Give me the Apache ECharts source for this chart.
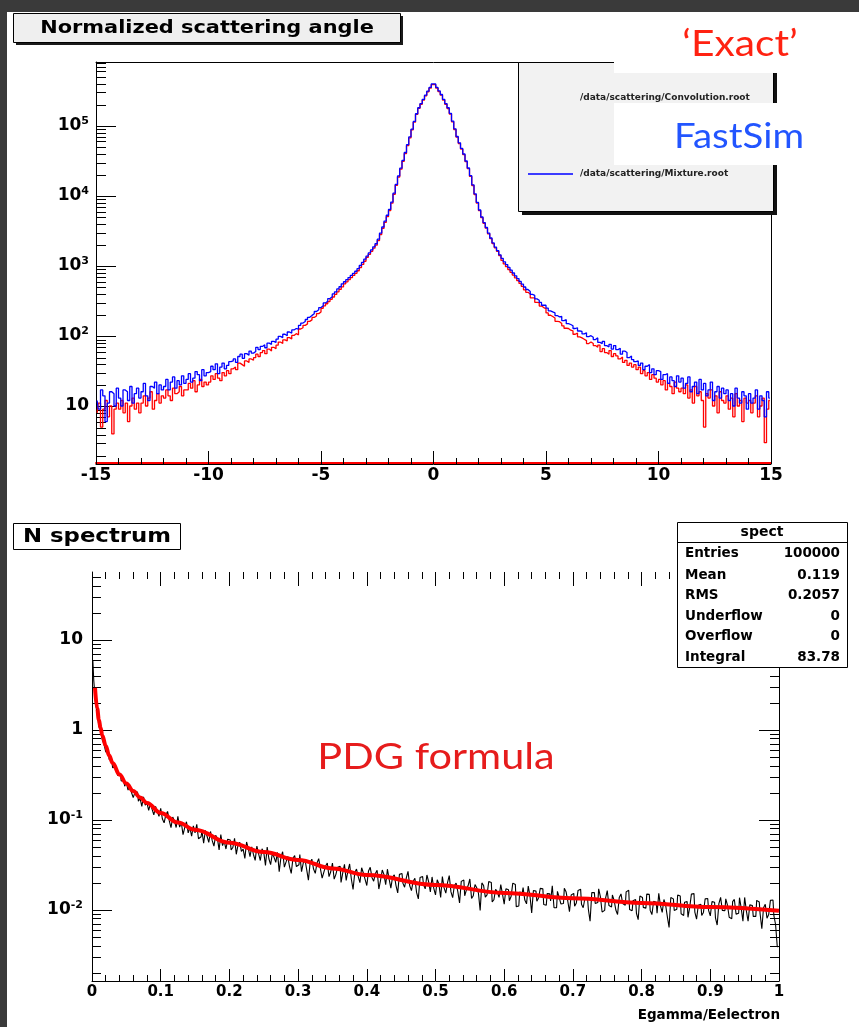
<!DOCTYPE html>
<html><head><meta charset="utf-8">
<script src="https://cdn.jsdelivr.net/npm/echarts@6/dist/echarts.min.js"></script>
<style>
html,body{margin:0;padding:0;background:#3a3a3a;width:859px;height:1027px;overflow:hidden}
#paper{position:absolute;left:7px;top:12px;width:852px;height:1015px;background:#fff}
#chart{position:absolute;left:0;top:0;width:859px;height:1027px}
</style></head><body><div id="paper"></div><div id="chart"></div>
<script>
// ---------------- DATA ----------------
// Top: normalized scattering angle, 300 bins of width 0.1 from -15 to 15 (one row = one unit)
const angleMin = -15, angleMax = 15, angleBinWidth = 0.1;
const angleTicks = [-15, -10, -5, 0, 5, 10, 15];
const countDecades = [10, 100, 1000, 10000, 100000];
const countRange = [1.535, 820000];
// 'Exact' : /data/scattering/Convolution.root (red)
const convolutionCounts = [
  8,11,5,9,12,7,10,4,9,11,
  9,12,8,11,6,10,13,9,11,8,
  11,14,10,13,16,9,12,15,11,14,
  13,17,14,12,18,15,16,19,14,17,
  17,21,18,23,16,20,24,19,22,20,
  22,27,24,29,25,23,30,27,32,29,
  34,36,33,41,39,37,44,42,47,45,
  49,55,51,58,62,56,65,61,69,66,
  74,82,78,88,85,95,91,102,108,104,
  126,131,142,149,162,170,184,193,209,220,
  249,269,289,310,334,361,393,427,463,503,
  556,595,638,684,733,785,856,949,1053,1169,
  1324,1466,1622,1795,1986,2307,2818,3443,4188,5070,
  6207,7905,10590,14190,18660,24150,31260,40360,52240,67450,
  88100,113500,146200,177900,204200,234400,269200,307000,346700,389000,
  389000,346700,309000,275400,234400,204200,177800,148000,114800,89130,
  69180,56230,46770,38900,30900,24550,19050,14130,10470,7943,
  6166,4898,4074,3467,2884,2455,2089,1820,1622,1413,
  1202,1072,977,891,813,741,676,617,563,513,
  457,421,398,350,351,303,300,268,255,246,
  214,198,190,181,162,160,151,140,129,128,
  121,118,106,110,97,94,90,86,78,82,
  78,73,69,74,60,66,58,55,62,51,
  56,52,47,50,42,45,38,41,36,39,
  33,36,29,32,27,30,24,28,25,22,
  24,20,23,17,21,19,15,22,18,16,
  18,15,20,13,17,11,19,14,16,12,
  5,15,13,17,10,14,8,16,12,11,
  14,9,13,7,15,10,12,6,13,11,
  12,8,11,14,7,10,13,3,9,12
];
// FastSim : /data/scattering/Mixture.root (blue)
const mixtureCounts = [
  12,9,17,14,6,11,16,15,10,18,
  13,10,17,16,12,19,11,15,18,13,
  16,21,14,12,19,18,22,15,20,17,
  19,24,17,22,26,18,23,20,27,21,
  24,29,22,25,31,28,23,33,27,30,
  31,37,33,40,29,36,41,34,38,43,
  44,47,42,51,55,48,56,53,61,57,
  60,69,64,71,75,68,79,76,84,81,
  90,99,95,106,101,114,110,122,128,125,
  142,153,161,172,185,197,208,224,238,255,
  270,297,314,343,363,399,428,471,505,556,
  596,638,684,733,785,841,917,1017,1128,1252,
  1387,1535,1698,1879,2080,2415,2951,3606,4385,5309,
  6427,8185,10960,14690,19320,25000,32360,41780,54080,69820,
  90160,116100,149600,182000,208900,239900,275400,314100,354800,398100,
  398100,354800,316200,281800,239900,208900,182000,151400,117500,91200,
  70790,57540,47860,39810,31620,25120,19500,14450,10720,8128,
  6310,5012,4169,3548,2951,2512,2138,1862,1660,1445,
  1288,1148,1047,955,871,794,724,661,603,550,
  501,462,433,392,380,339,324,302,275,276,
  251,229,221,214,196,188,190,166,171,150,
  146,140,128,131,118,116,107,111,98,101,
  96,89,94,81,78,84,73,70,76,65,
  73,64,67,55,61,58,49,52,46,43,
  44,38,41,33,37,39,30,34,28,32,
  31,24,28,29,21,26,23,19,27,22,
  25,18,21,26,16,19,22,15,24,17,
  21,14,17,22,12,16,19,13,18,15,
  17,12,15,10,18,13,11,16,14,9,
  15,11,13,17,9,14,12,7,16,13
];

// Bottom: N spectrum, 400 bins of width 0.0025 from 0 to 1
const spectMin = 0, spectMax = 1, spectBinWidth = 0.0025;
const spectTicks = [0, 0.1, 0.2, 0.3, 0.4, 0.5, 0.6, 0.7, 0.8, 0.9, 1];
const spectDecades = [0.01, 0.1, 1, 10];
const spectRange = [0.001626, 57];
const spectCounts = [
  5.9,3.61,2.02,1.52,1.10,0.984,0.775,0.698,0.572,0.569,
  0.470,0.460,0.381,0.385,0.365,0.312,0.325,0.272,0.275,0.237,
  0.261,0.215,0.246,0.202,0.177,0.203,0.204,0.162,0.174,0.142,
  0.181,0.146,0.155,0.128,0.152,0.131,0.114,0.142,0.125,0.110,
  0.1346,0.1025,0.0932,0.1146,0.1245,0.0978,0.0824,0.1079,0.0978,0.0825,
  0.1099,0.0834,0.0939,0.0687,0.0825,0.0957,0.0719,0.0824,0.0660,0.0861,
  0.0718,0.0895,0.0620,0.0651,0.0759,0.0553,0.0765,0.0660,0.0565,0.0746,
  0.0590,0.0513,0.0675,0.0628,0.0465,0.0690,0.0520,0.0580,0.0476,0.0612,
  0.0599,0.0465,0.0495,0.0625,0.0416,0.0527,0.0567,0.0449,0.0474,0.0374,
  0.0570,0.0481,0.0392,0.0502,0.0414,0.0356,0.0512,0.0421,0.0355,0.0478,
  0.0437,0.0313,0.0500,0.0371,0.0319,0.0426,0.0385,0.0339,0.0436,0.0267,
  0.0385,0.0444,0.0299,0.0342,0.0395,0.0304,0.0255,0.0376,0.0402,0.0304,
  0.0318,0.0414,0.0267,0.0332,0.0364,0.0281,0.0215,0.0334,0.0367,0.0285,
  0.0255,0.0333,0.0372,0.0286,0.0226,0.0264,0.0308,0.0333,0.0235,0.0266,
  0.0333,0.0220,0.0249,0.0298,0.0306,0.0202,0.0259,0.0322,0.0213,0.0272,
  0.0325,0.0221,0.0169,0.0260,0.0285,0.0235,0.0201,0.0295,0.0258,0.0219,
  0.0187,0.0272,0.0298,0.0230,0.0209,0.0254,0.0276,0.0171,0.0214,0.0278,
  0.0247,0.0191,0.0284,0.0220,0.0175,0.0232,0.0246,0.0187,0.0155,0.0249,
  0.0254,0.0199,0.0179,0.0227,0.0269,0.0186,0.0164,0.0209,0.0225,0.0156,
  0.0133,0.0229,0.0236,0.0192,0.0172,0.0245,0.0206,0.0159,0.0233,0.0174,
  0.0147,0.0217,0.0193,0.0138,0.0235,0.0176,0.0154,0.0201,0.0241,0.0159,
  0.0137,0.0187,0.0199,0.0160,0.0120,0.0208,0.0216,0.0144,0.0167,0.0187,
  0.0221,0.0134,0.0144,0.0192,0.0177,0.0154,0.0099,0.0200,0.0187,0.0139,
  0.0147,0.0207,0.0202,0.0123,0.0130,0.0170,0.0159,0.0138,0.0192,0.0150,
  0.0116,0.0172,0.0168,0.0127,0.0141,0.0199,0.0192,0.0109,0.0111,0.0158,
  0.0155,0.0177,0.0129,0.0117,0.0184,0.0144,0.0093,0.0165,0.0162,0.0125,
  0.0136,0.0174,0.0172,0.0115,0.0113,0.0152,0.0151,0.0126,0.0186,0.0106,
  0.0106,0.0161,0.0138,0.0117,0.0118,0.0174,0.0160,0.0126,0.0096,0.0147,
  0.0153,0.0110,0.0120,0.0165,0.0170,0.0116,0.0106,0.0135,0.0138,0.0102,
  0.0075,0.0156,0.0156,0.0118,0.0121,0.0172,0.0141,0.0095,0.0099,0.0135,
  0.0164,0.0112,0.0108,0.0147,0.0128,0.0100,0.0089,0.0138,0.0151,0.0118,
  0.0113,0.0159,0.0166,0.0101,0.0098,0.0127,0.0131,0.0092,0.0078,0.0143,
  0.0138,0.0107,0.0105,0.0150,0.0149,0.0099,0.0089,0.0125,0.0122,0.0092,
  0.0153,0.0111,0.0094,0.0131,0.0113,0.0084,0.0064,0.0138,0.0133,0.0099,
  0.0102,0.0147,0.0143,0.0091,0.0087,0.0122,0.0124,0.0083,0.0107,0.0150,
  0.0152,0.0095,0.0079,0.0113,0.0116,0.0087,0.0094,0.0133,0.0134,0.0099,
  0.0086,0.0124,0.0122,0.0082,0.0068,0.0118,0.0138,0.0099,0.0098,0.0133,
  0.0113,0.0083,0.0080,0.0124,0.0131,0.0090,0.0092,0.0137,0.0105,0.0075,
  0.0138,0.0098,0.0075,0.0114,0.0112,0.0085,0.0085,0.0128,0.0123,0.0091,
  0.0062,0.0106,0.0116,0.0081,0.0089,0.0128,0.0129,0.0087,0.0069,0.0039
];
// PDG formula curve (red)
const pdgX = [0.0044,0.0075,0.01,0.0125,0.015,0.02,0.025,0.03,0.04,0.05,0.06,0.07,0.08,0.1,0.125,0.15,0.2,0.25,0.3,0.35,0.4,0.5,0.6,0.7,0.8,0.9,1.0];
const pdgY = [2.94,1.75,1.30,1.05,0.87,0.67,0.52,0.43,0.32,0.255,0.21,0.178,0.155,0.12,0.094,0.078,0.056,0.044,0.036,0.029,0.0245,0.019,0.0155,0.0135,0.012,0.0108,0.0098];

// Stats box
const statsTitle = 'spect';
const statsNames = ['Entries', 'Mean', 'RMS', 'Underflow', 'Overflow', 'Integral'];
const statsValues = ['100000', '0.119', '0.2057', '0', '0', '83.78'];

// Texts
const topTitle = 'Normalized scattering angle';
const bottomTitle = 'N spectrum';
const legendNames = ['/data/scattering/Convolution.root', '/data/scattering/Mixture.root'];
const xTitleBottom = 'Egamma/Eelectron';

// ---------------- BUILD ----------------
const FONT = '"DejaVu Sans", "Liberation Sans", sans-serif';
const angleCenters = convolutionCounts.map((_, i) => angleMin + (i + 0.5) * angleBinWidth);
const spectCenters = spectCounts.map((_, i) => spectMin + (i + 0.5) * spectBinWidth);
const zip = (xs, ys) => xs.map((x, i) => [x, ys[i]]);

function minorLog(decades) {
  const out = [];
  decades.forEach(d => { for (let m = 2; m <= 9; m++) out.push(parseFloat((d * m).toPrecision(6))); });
  return out;
}
const countMinor = minorLog([1, 10, 100, 1000, 10000, 100000]).filter(v => v >= countRange[0] && v <= countRange[1]);
const spectMinor = minorLog([0.001, 0.01, 0.1, 1, 10]).filter(v => v >= spectRange[0] && v <= spectRange[1]);
const angleMinor = []; for (let v = angleMin; v <= angleMax; v++) angleMinor.push(v);
const spectMinorX = []; for (let i = 0; i <= 50; i++) spectMinorX.push(Math.round(i * 2) / 100);

function supLabel(v) {
  const e = Math.round(Math.log10(v));
  if (e === 0) return '{b|1}';
  if (e === 1) return '{b|10}';
  return '{b|10}{s|' + e + '}';
}
const rich = {
  b: { fontFamily: FONT, fontWeight: 'bold', fontSize: 17, color: '#000', lineHeight: 20 },
  s: { fontFamily: FONT, fontWeight: 'bold', fontSize: 11, color: '#000', lineHeight: 11, verticalAlign: 'top' }
};

function ax(extra) {
  const base = {
    splitLine: { show: false },
    axisLine: { show: false, onZero: false, lineStyle: { color: '#000', width: 1 } },
    axisTick: { show: false },
    axisLabel: { show: false },
    minorTick: { show: false },
    splitArea: { show: false }
  };
  return Object.assign(base, extra);
}
function ticks(vals, len) {
  return { show: true, inside: true, length: len, customValues: vals, lineStyle: { color: '#000', width: 1 } };
}
const line = (c, w) => ({ show: true, onZero: false, lineStyle: { color: c || '#000', width: w || 1 } });

const gTop = { left: 96, top: 62, width: 675, height: 401 };
const gBot = { left: 92, top: 572, width: 687, height: 409 };

const grid = [
  gTop,
  { left: 96, top: 62, width: 675, height: 402 },
  gTop,
  gBot, gBot, gBot, gBot
];

const xAxis = [
  ax({ gridIndex: 0, type: 'value', min: angleMin, max: angleMax, axisLine: line('#ff0000', 2),
       axisTick: ticks(angleTicks, 12),
       axisLabel: { show: true, customValues: angleTicks, margin: 4, fontFamily: FONT, fontWeight: 'bold', fontSize: 17, color: '#000' } }),
  ax({ gridIndex: 1, type: 'value', min: angleMin, max: angleMax, axisLine: line('#000', 1), axisTick: ticks(angleMinor, 6) }),
  ax({ gridIndex: 2, type: 'value', position: 'top', min: angleMin, max: angleMax, axisLine: line('#000', 1) }),
  ax({ gridIndex: 3, type: 'value', min: spectMin, max: spectMax, axisLine: line('#000', 1),
       axisTick: ticks(spectTicks, 12),
       axisLabel: { show: true, customValues: spectTicks, margin: 4, fontFamily: FONT, fontWeight: 'bold', fontSize: 15, color: '#000' } }),
  ax({ gridIndex: 4, type: 'value', min: spectMin, max: spectMax, axisTick: ticks(spectMinorX, 6) }),
  ax({ gridIndex: 5, type: 'value', position: 'top', min: spectMin, max: spectMax, axisTick: ticks(spectTicks, 14) }),
  ax({ gridIndex: 6, type: 'value', position: 'top', min: spectMin, max: spectMax, axisTick: ticks(spectMinorX, 7) })
];

const yAxis = [
  ax({ gridIndex: 0, type: 'log', logBase: 10, min: countRange[0], max: countRange[1], axisLine: line('#000', 1),
       axisTick: ticks(countDecades, 20),
       axisLabel: { show: true, customValues: countDecades, margin: 7, formatter: supLabel, rich: rich } }),
  ax({ gridIndex: 1, type: 'log', logBase: 10, min: countRange[0], max: countRange[1], axisTick: ticks(countMinor, 10) }),
  ax({ gridIndex: 2, type: 'log', logBase: 10, position: 'right', min: countRange[0], max: countRange[1], axisLine: line('#000', 1) }),
  ax({ gridIndex: 3, type: 'log', logBase: 10, min: spectRange[0], max: spectRange[1], axisLine: line('#000', 1),
       axisTick: ticks(spectDecades, 20),
       axisLabel: { show: true, customValues: spectDecades, margin: 9, formatter: supLabel, rich: rich } }),
  ax({ gridIndex: 4, type: 'log', logBase: 10, min: spectRange[0], max: spectRange[1], axisTick: ticks(spectMinor, 9) }),
  ax({ gridIndex: 5, type: 'log', logBase: 10, position: 'right', min: spectRange[0], max: spectRange[1], axisLine: line('#000', 1), axisTick: ticks(spectDecades, 20) }),
  ax({ gridIndex: 6, type: 'log', logBase: 10, position: 'right', min: spectRange[0], max: spectRange[1], axisTick: ticks(spectMinor, 9) })
];

const series = [
  { type: 'line', xAxisIndex: 0, yAxisIndex: 0, step: 'middle', symbol: 'none', z: 2,
    data: zip(angleCenters, convolutionCounts), lineStyle: { color: '#ff0000', width: 1.3 } },
  { type: 'line', xAxisIndex: 0, yAxisIndex: 0, step: 'middle', symbol: 'none', z: 3,
    data: zip(angleCenters, mixtureCounts), lineStyle: { color: '#0000ff', width: 1.3 } },
  { type: 'line', xAxisIndex: 3, yAxisIndex: 3, step: 'middle', symbol: 'none', z: 2,
    data: zip(spectCenters, spectCounts), lineStyle: { color: '#000', width: 1.1 } },
  { type: 'line', xAxisIndex: 3, yAxisIndex: 3, smooth: 0.4, smoothMonotone: 'x', symbol: 'none', z: 4,
    data: zip(pdgX, pdgY), lineStyle: { color: '#ff0000', width: 4 } }
];

function txt(x, y, text, font, fill, align, z, sx) {
  return { type: 'text', x: x, y: y, z: z || 110, scaleX: sx || 1,
    style: { text: text, font: font, fill: fill || '#000', textAlign: align || 'center', align: align || 'center',
             textVerticalAlign: 'middle', verticalAlign: 'middle' } };
}
function rect(x, y, w, h, fill, stroke, z) {
  return { type: 'rect', z: z || 100, shape: { x: x, y: y, width: w, height: h },
    style: { fill: fill, stroke: stroke || null, lineWidth: stroke ? 1 : 0 } };
}

const statsFont = 'bold 13.5px ' + FONT;
const statsRowsY = [553, 575, 595, 616, 636, 657];
const graphics = [
  rect(16, 16, 387, 29, '#1a1a1a', null, 100),
  rect(13.5, 13.5, 387, 29, '#efefef', '#000', 101),
  txt(207, 28, topTitle, 'bold 18px ' + FONT, '#000', 'center', 102, 1.16),
  rect(522, 66, 255, 149, '#111', null, 100),
  rect(518.5, 62.5, 255, 149, '#f2f2f2', '#000', 101),
  txt(580, 98, legendNames[0], 'bold 9px ' + FONT, '#222', 'left', 102),
  { type: 'line', z: 102, shape: { x1: 528, y1: 174, x2: 573, y2: 174 }, style: { stroke: '#3c3cff', lineWidth: 2 } },
  txt(580, 174, legendNames[1], 'bold 9px ' + FONT, '#222', 'left', 102),
  rect(614, 12, 245, 61, '#fff', null, 103),
  rect(614, 103, 245, 62, '#fff', null, 103),
  txt(740, 44, '\u2018Exact\u2019', '37px Lato', '#ff2211', 'center', 104, 1.1),
  txt(739, 137, 'FastSim', '34px Lato', '#2255ff', 'center', 104, 1.13),
  rect(13.5, 523.5, 167, 26, '#fff', '#000', 101),
  txt(97, 537, bottomTitle, 'bold 19px ' + FONT, '#000', 'center', 102, 1.2),
  txt(436, 757, 'PDG formula', '37px Lato', '#e61c1c', 'center', 104, 1.12),
  rect(677.5, 522.5, 170, 145, '#fff', '#000', 101),
  { type: 'line', z: 102, shape: { x1: 677.5, y1: 542.5, x2: 847.5, y2: 542.5 }, style: { stroke: '#000', lineWidth: 1 } },
  txt(762, 532, statsTitle, 'bold 14px ' + FONT, '#000', 'center', 102),
  txt(780, 1015, xTitleBottom, 'bold 13.5px ' + FONT, '#000', 'right', 102)
];
statsNames.forEach((n, i) => {
  graphics.push(txt(685, statsRowsY[i], n, statsFont, '#000', 'left', 102));
  graphics.push(txt(840, statsRowsY[i], statsValues[i], statsFont, '#000', 'right', 102));
});

const chart = echarts.init(document.getElementById('chart'), null, { renderer: 'canvas' });
chart.setOption({
  animation: false,
  backgroundColor: 'transparent',
  grid: grid,
  xAxis: xAxis,
  yAxis: yAxis,
  series: series,
  graphic: { elements: graphics }
});
</script>
</body></html>
